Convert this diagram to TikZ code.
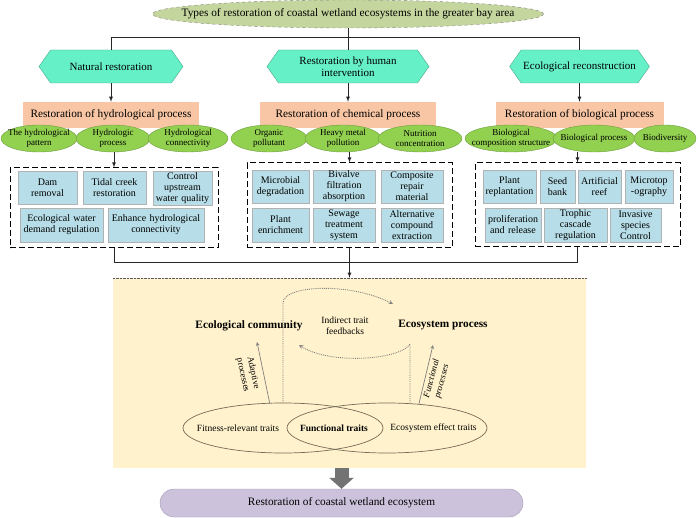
\documentclass[tikz,border=0pt]{standalone}
\usepackage{fontspec}
\setmainfont{Liberation Serif}
\usetikzlibrary{shapes.geometric,shapes.symbols,arrows.meta}
\definecolor{typesgreen}{RGB}{196,214,158}
\definecolor{hexmint}{RGB}{102,240,200}
\definecolor{peach}{RGB}{248,198,164}
\definecolor{leafgreen}{RGB}{146,208,80}
\definecolor{paleblue}{RGB}{183,222,232}
\definecolor{cream}{RGB}{255,242,204}
\definecolor{lavender}{RGB}{204,194,220}
\definecolor{traitline}{RGB}{118,108,86}

\begin{document}
\begin{tikzpicture}[x=1pt,y=-1pt,
  hexa/.style={signal, signal to=west and east, signal pointer angle=110, draw=hexmint!70!black, fill=hexmint, minimum height=33, inner sep=2, align=center, font=\fontsize{11}{12.5}\selectfont},
  target/.style={rectangle, fill=peach, minimum height=26, font=\fontsize{11.3}{13}\selectfont},
  facet/.style={ellipse, draw=leafgreen!75!black, fill=leafgreen, minimum height=27, inner sep=0},
  facettext/.style={font=\fontsize{9}{10.5}\selectfont, align=center, inner sep=0},
  measure/.style={rectangle, draw=gray!60, fill=paleblue, inner sep=1, minimum height=33, align=center, font=\fontsize{10}{11}\selectfont},
  taskbox/.style={rectangle, draw, line width=1, dash pattern=on 6pt off 3pt},
  link/.style={line width=0.8, draw=black!85},
  trait/.style={font=\fontsize{9.5}{11}\selectfont, align=center},
  feedback/.style={densely dotted, line width=0.9, draw=gray, -stealth},
]
            \useasboundingbox (0,0) rectangle (700,518);
            %
            \node (types) at (348,14) [ellipse, draw=gray, dashed, fill=typesgreen, minimum width=391, minimum height=28, label={[font=\fontsize{11.3}{13}\selectfont]center:Types of restoration of coastal wetland ecosystems in the greater bay area}] {};
            %
            \node (natural) at (111,66.5) [hexa, minimum width=144] {Natural restoration};
            \node (human) at (348,66.5) [hexa, minimum width=162] {Restoration by human\\intervention};
            \node (rebuild) at (579.5,66.5) [hexa, minimum width=133] {Ecological reconstruction};
            \draw[link] (types.south) -- (human.north);
            \draw[link] (natural.north) -- ++(0,-12) -| (rebuild.north);
            %
            \node (hydro) at (111,115) [target, minimum width=176] {Restoration of hydrological process};
            \node (chem) at (348,115) [target, minimum width=176] {Restoration of chemical process};
            \node (bio) at (579.5,115) [target, minimum width=168] {Restoration of biological process};
            \draw[link,-latex] (natural.south) -- (hydro.north);
            \draw[link,-latex] (human.south) -- (chem.north);
            \draw[link,-latex] (rebuild.south) -- (bio.north);
            %
            \node (pattern) at (39,138.5) [facet, minimum width=76, label={[facettext]center:The hydrological\\pattern}] {};
            \node (hprocess) at (113,138.5) [facet, minimum width=74, label={[facettext]center:Hydrologic\\process}] {};
            \node (connect) at (188,138.5) [facet, minimum width=80, label={[facettext]center:Hydrological\\connectivity}] {};
            \node (organic) at (269,138.5) [facet, minimum width=76, label={[facettext]center:Organic\\pollutant}] {};
            \node (metal) at (343,138.5) [facet, minimum width=76, label={[facettext]center:Heavy metal\\pollution}] {};
            \node (nutrient) at (420,138.5) [facet, minimum width=84, label={[facettext]center:Nutrition\\concentration}] {};
            \node (structure) at (511,138.5) [facet, minimum width=92, label={[facettext]center:Biological\\composition structure}] {};
            \node (bprocess) at (594,138.5) [facet, minimum width=82, label={[facettext]center:Biological process}] {};
            \node (diversity) at (665,138.5) [facet, minimum width=62, label={[facettext]center:Biodiversity}] {};
            %
            \node (hydgroup) at (114,208) [taskbox, minimum width=208, minimum height=80] {};
            \node (chemgroup) at (349.5,205.5) [taskbox, minimum width=205, minimum height=85] {};
            \node (biogroup) at (577.5,205) [taskbox, minimum width=205, minimum height=84] {};
            \draw[link,-latex] (hydgroup.north |- hprocess.south) -- (hydgroup.north);
            \draw[link,-latex] (chemgroup.north |- metal.south) -- (chemgroup.north);
            \draw[link,-latex] (biogroup.north |- bprocess.south) -- (biogroup.north);
            %
            \node (dam) at (47.5,187.5) [measure, text width=57] {Dam\\removal};
            \node (tidal) at (114.5,187.5) [measure, text width=61] {Tidal creek\\restoration};
            \node (upstream) at (182.5,188) [measure, text width=57, minimum height=34] {Control\\upstream\\water quality};
            \node (demand) at (61.5,225) [measure, text width=81, minimum height=34] {Ecological water\\demand regulation};
            \node (enhance) at (156,225) [measure, text width=94, minimum height=34] {Enhance hydrological\\connectivity};
            %
            \node (microbe) at (280.5,186.5) [measure, text width=55] {Microbial\\degradation};
            \node (bivalve) at (344,186.5) [measure, text width=60] {Bivalve\\filtration\\absorption};
            \node (composite) at (412,186.5) [measure, text width=60] {Composite\\repair\\material};
            \node (enrich) at (280.5,225) [measure, text width=55, minimum height=34] {Plant\\enrichment};
            \node (sewage) at (344,225) [measure, text width=60, minimum height=34] {Sewage\\treatment\\system};
            \node (extract) at (412,225) [measure, text width=60, minimum height=34] {Alternative\\compound\\extraction};
            %
            \node (replant) at (509.5,186.5) [measure, text width=51] {Plant\\replantation};
            \node (seedbank) at (557.5,186.5) [measure, text width=33] {Seed\\bank};
            \node (reef) at (599.5,186.5) [measure, text width=41] {Artificial\\reef};
            \node (microtopo) at (649,186.5) [measure, text width=46] {Microtop\\-ography};
            \node (release) at (513,225) [measure, text width=54, minimum height=34] {proliferation\\and release};
            \node (trophic) at (575.5,225) [measure, text width=61, minimum height=34] {Trophic\\cascade\\regulation};
            \node (invasive) at (635.5,225) [measure, text width=49, minimum height=34] {Invasive\\species\\Control};
            %
            \node (traits) at (349.5,373) [rectangle, fill=cream, minimum width=473, minimum height=190, inner sep=0] {};
            \draw[densely dotted, gray!70!black] (traits.north west) -- (traits.north east);
            \draw[link] (hydgroup.south) -- ++(0,14) -| (biogroup.south);
            \draw[link,-latex] (chemgroup.south) -- (chemgroup.south |- traits.north);
            %
            \node (community) at (249,326) [font=\bfseries\fontsize{11.3}{13}\selectfont] {Ecological community};
            \node (ecoprocess) at (443,325) [font=\bfseries\fontsize{11.3}{13}\selectfont] {Ecosystem process};
            \node (indirect) at (345,326) [trait] {Indirect trait\\feedbacks};
            %
            \node (fitness) at (283,428) [ellipse, draw=traitline, line width=0.7, minimum width=200, minimum height=50] {};
            \node (effect) at (387,428) [ellipse, draw=traitline, line width=0.7, minimum width=200, minimum height=50] {};
            \node (fitlabel) at (238,428) [trait] {Fitness-relevant traits};
            \node (funlabel) at (334,428) [trait, font=\bfseries\fontsize{9.5}{11}\selectfont] {Functional traits};
            \node (efflabel) at (433.5,428) [trait] {Ecosystem effect traits};
            %
            \coordinate (bend) at (283,303);
            \coordinate (upper) at (393,304);
            \coordinate (rise) at (410,344);
            \coordinate (lower) at (299,345);
            \draw[feedback] (fitness.north) -- (bend) .. controls (283,285) and (350,282) .. (upper);
            \draw[feedback] (effect.north -| rise) -- (rise) .. controls (400,360) and (330,365) .. (lower);
            %
            \coordinate (adapttip) at (257,342);
            \coordinate (functip) at (433,345);
            \draw[gray, line width=0.7, -stealth] (fitness.118) -- (adapttip);
            \draw[gray, line width=0.7, -stealth] (effect.37) -- (functip);
            \node (adaptive) at (248,374) [trait, rotate=-78, font=\fontsize{9}{10.5}\selectfont] {Adaptive\\processes};
            \node (functional) at (437,380) [trait, rotate=75, font=\itshape\fontsize{9}{10.5}\selectfont] {Functional\\processes};
            %
            \node (restore) at (341.5,503) [rectangle, rounded corners=14, fill=lavender, draw=lavender!80!black, minimum width=363, minimum height=28, font=\fontsize{11.3}{13}\selectfont] {Restoration of coastal wetland ecosystem};
            \draw[line width=14, draw=black!55, -{Triangle[length=11pt,width=24pt]}] (restore.north |- traits.south) -- (restore.north);
        \end{tikzpicture}
\end{document}
